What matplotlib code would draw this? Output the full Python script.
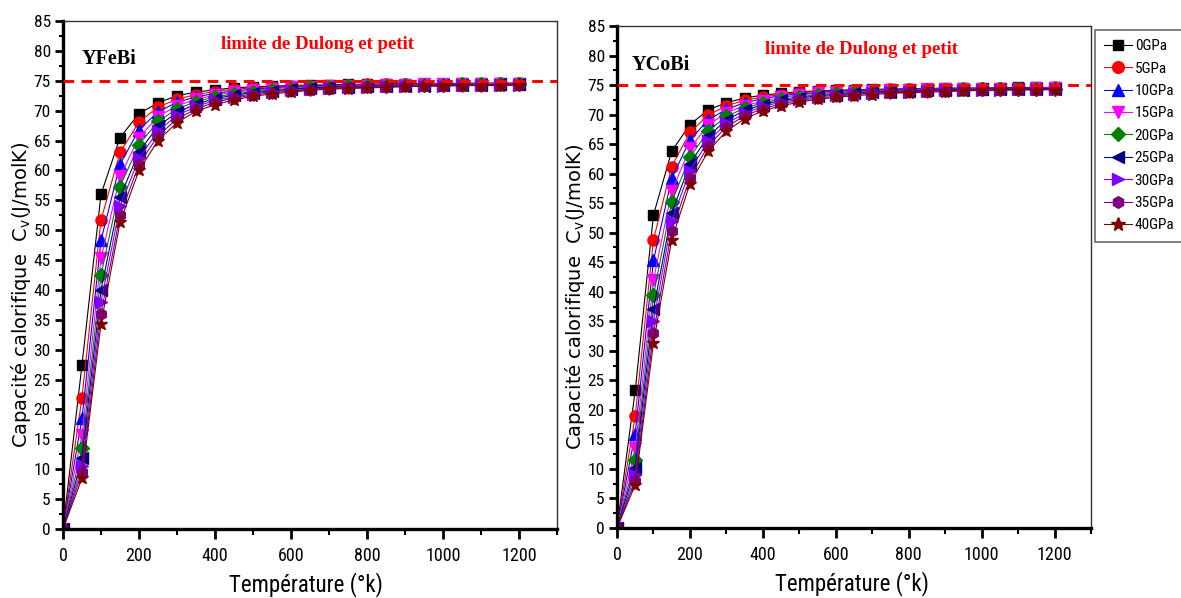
import matplotlib
matplotlib.use("Agg")
import matplotlib.pyplot as plt
from matplotlib.ticker import MultipleLocator

# Temperature grid (K)
temperature = [0, 50, 100, 150, 200, 250, 300, 350, 400, 450, 500, 550, 600,
               650, 700, 750, 800, 850, 900, 950, 1000, 1050, 1100, 1150, 1200]

pressure_labels = ["0GPa", "5GPa", "10GPa", "15GPa", "20GPa",
                   "25GPa", "30GPa", "35GPa", "40GPa"]

# Heat capacity Cv (J/molK) of YFeBi for each pressure
yfebi_0 = [0, 27.5, 56.0, 65.5, 69.5, 71.3, 72.5, 73.1, 73.5, 73.8, 74.0, 74.1, 74.2, 74.3, 74.3, 74.4, 74.4, 74.5, 74.5, 74.5, 74.5, 74.6, 74.6, 74.6, 74.6]
yfebi_5 = [0, 22.0, 51.7, 63.0, 68.1, 70.6, 71.9, 72.7, 73.2, 73.6, 73.8, 74.0, 74.1, 74.2, 74.2, 74.3, 74.4, 74.4, 74.4, 74.5, 74.5, 74.5, 74.5, 74.6, 74.6]
yfebi_10 = [0, 18.5, 48.3, 61.0, 66.8, 69.8, 71.4, 72.3, 72.9, 73.3, 73.6, 73.8, 74.0, 74.1, 74.2, 74.2, 74.3, 74.3, 74.4, 74.4, 74.4, 74.5, 74.5, 74.5, 74.5]
yfebi_15 = [0, 15.7, 45.3, 59.0, 65.5, 69.0, 70.8, 71.9, 72.6, 73.1, 73.4, 73.7, 73.9, 74.0, 74.1, 74.2, 74.2, 74.3, 74.3, 74.4, 74.4, 74.4, 74.5, 74.5, 74.5]
yfebi_20 = [0, 13.5, 42.5, 57.3, 64.3, 68.2, 70.3, 71.5, 72.3, 72.8, 73.2, 73.5, 73.7, 73.9, 74.0, 74.1, 74.1, 74.2, 74.3, 74.3, 74.3, 74.4, 74.4, 74.4, 74.4]
yfebi_25 = [0, 11.8, 40.0, 55.5, 63.1, 67.4, 69.7, 71.1, 72.0, 72.6, 73.0, 73.3, 73.6, 73.8, 73.9, 74.0, 74.1, 74.1, 74.2, 74.2, 74.3, 74.3, 74.3, 74.4, 74.4]
yfebi_30 = [0, 10.5, 38.0, 54.0, 62.0, 66.6, 69.2, 70.7, 71.7, 72.3, 72.8, 73.2, 73.4, 73.6, 73.8, 73.9, 74.0, 74.1, 74.1, 74.2, 74.2, 74.3, 74.3, 74.3, 74.3]
yfebi_35 = [0, 9.5, 36.0, 52.5, 61.0, 65.8, 68.6, 70.3, 71.4, 72.1, 72.6, 73.0, 73.3, 73.5, 73.7, 73.8, 73.9, 74.0, 74.1, 74.1, 74.2, 74.2, 74.2, 74.3, 74.3]
yfebi_40 = [0, 8.5, 34.3, 51.3, 60.0, 65.0, 68.0, 69.9, 71.0, 71.8, 72.4, 72.8, 73.1, 73.4, 73.6, 73.7, 73.8, 73.9, 74.0, 74.1, 74.1, 74.2, 74.2, 74.2, 74.3]

# Heat capacity Cv (J/molK) of YCoBi for each pressure
ycobi_0 = [0, 23.3, 53.0, 63.8, 68.3, 70.8, 72.0, 72.8, 73.3, 73.6, 73.9, 74.0, 74.1, 74.2, 74.3, 74.3, 74.4, 74.4, 74.5, 74.5, 74.5, 74.5, 74.6, 74.6, 74.6]
ycobi_5 = [0, 19.0, 48.8, 61.2, 67.0, 69.9, 71.5, 72.4, 73.0, 73.4, 73.7, 73.9, 74.0, 74.1, 74.2, 74.3, 74.3, 74.4, 74.4, 74.4, 74.5, 74.5, 74.5, 74.5, 74.6]
ycobi_10 = [0, 16.0, 45.3, 59.2, 65.7, 69.1, 70.9, 72.0, 72.7, 73.2, 73.5, 73.7, 73.9, 74.0, 74.1, 74.2, 74.3, 74.3, 74.4, 74.4, 74.4, 74.5, 74.5, 74.5, 74.5]
ycobi_15 = [0, 13.5, 42.0, 57.0, 64.3, 68.2, 70.3, 71.5, 72.3, 72.9, 73.3, 73.6, 73.8, 73.9, 74.0, 74.1, 74.2, 74.3, 74.3, 74.3, 74.4, 74.4, 74.4, 74.5, 74.5]
ycobi_20 = [0, 11.5, 39.4, 55.2, 62.8, 67.2, 69.7, 71.1, 72.0, 72.6, 73.0, 73.4, 73.6, 73.8, 73.9, 74.0, 74.1, 74.2, 74.2, 74.3, 74.3, 74.4, 74.4, 74.4, 74.4]
ycobi_25 = [0, 10.2, 37.0, 53.3, 61.7, 66.3, 69.1, 70.7, 71.7, 72.4, 72.8, 73.2, 73.4, 73.6, 73.8, 73.9, 74.0, 74.1, 74.2, 74.2, 74.3, 74.3, 74.3, 74.4, 74.4]
ycobi_30 = [0, 9.0, 35.0, 52.0, 60.5, 65.5, 68.5, 70.2, 71.4, 72.1, 72.6, 73.0, 73.3, 73.5, 73.7, 73.8, 73.9, 74.0, 74.1, 74.1, 74.2, 74.2, 74.3, 74.3, 74.3]
ycobi_35 = [0, 8.0, 33.0, 50.3, 59.3, 64.7, 67.9, 69.8, 71.0, 71.8, 72.4, 72.8, 73.1, 73.4, 73.6, 73.7, 73.8, 73.9, 74.0, 74.1, 74.1, 74.2, 74.2, 74.2, 74.3]
ycobi_40 = [0, 7.3, 31.3, 48.8, 58.3, 63.8, 67.2, 69.3, 70.6, 71.5, 72.1, 72.6, 72.9, 73.2, 73.4, 73.6, 73.7, 73.8, 73.9, 74.0, 74.1, 74.1, 74.2, 74.2, 74.2]

dulong_petit = 75.0

yfebi_series = [yfebi_0, yfebi_5, yfebi_10, yfebi_15, yfebi_20,
                yfebi_25, yfebi_30, yfebi_35, yfebi_40]
ycobi_series = [ycobi_0, ycobi_5, ycobi_10, ycobi_15, ycobi_20,
                ycobi_25, ycobi_30, ycobi_35, ycobi_40]

colors = ["#000000", "#ff0000", "#0000ff", "#ff00ff", "#008000",
          "#000080", "#8000ff", "#800080", "#800000"]
markers = ["s", "o", "^", "v", "D", "<", ">", "h", "*"]
msizes = [7.5, 8, 8, 8, 7, 8, 8, 8, 9.5]

NARROW = ["Roboto Condensed", "DejaVu Sans"]
plt.rcParams["font.family"] = NARROW
plt.rcParams["mathtext.fontset"] = "custom"
plt.rcParams["mathtext.rm"] = "DejaVu Sans"
plt.rcParams["mathtext.it"] = "DejaVu Sans"

fig = plt.figure(figsize=(11.81, 5.98), dpi=100)
ax_fe = fig.add_axes([63 / 1181, 1 - 529 / 598, 494 / 1181, 508 / 598])
ax_co = fig.add_axes([617 / 1181, 1 - 528 / 598, 474 / 1181, 502 / 598])


def draw_panel(ax, series, compound, name_xy, ylab_x, xlab_x):
    handles = []
    for vals, c, m, ms, lab in zip(series, colors, markers, msizes, pressure_labels):
        h, = ax.plot(temperature, vals, color=c, lw=0.8, marker=m, ms=ms,
                     markerfacecolor=c, markeredgecolor=c, label=lab)
        handles.append(h)
    ax.axhline(dulong_petit, color="#ff0000", lw=2.2, ls=(0, (3.5, 2.4)), zorder=5)
    ax.set_xlim(0, 1300)
    ax.set_ylim(0, 85)
    ax.xaxis.set_major_locator(MultipleLocator(200))
    ax.xaxis.set_minor_locator(MultipleLocator(100))
    ax.yaxis.set_major_locator(MultipleLocator(5))
    ax.yaxis.set_minor_locator(MultipleLocator(2.5))
    ax.tick_params(axis="x", which="major", direction="out", length=7.2, width=2,
                   labelsize=13, pad=5.5, top=False)
    ax.tick_params(axis="y", which="major", direction="out", length=5.8, width=2,
                   labelsize=12.5, pad=3.0, right=False)
    ax.tick_params(axis="x", which="minor", direction="out", length=4.5, width=1.5, top=False)
    ax.tick_params(axis="y", which="minor", direction="out", length=3.2, width=1.5, right=False)
    for side in ("left", "bottom"):
        ax.spines[side].set_linewidth(2.4)
    for side in ("top", "right"):
        ax.spines[side].set_linewidth(1.0)
        ax.spines[side].set_color("#333333")
    ax.set_xlabel("Température (°k)", fontsize=16.5)
    ax.xaxis.set_label_coords(xlab_x, -0.110)
    ax.xaxis.label.set_va("center")
    ax.set_ylabel("Capacité calorifique  C$_v$(J/molK)", fontsize=14,
                  family="DejaVu Sans")
    ax.yaxis.set_label_coords(ylab_x, 0.46)
    ax.yaxis.label.set_va("center")
    ax.text(name_xy[0], name_xy[1], compound, fontsize=14.5, fontweight="bold",
            family="Liberation Serif", color="black", va="center", ha="left")
    ax.text(670, 81, "limite de Dulong et petit", fontsize=13.5, fontweight="bold",
            family="Liberation Serif", color="#ff0000", va="center", ha="center")
    return handles


draw_panel(ax_fe, yfebi_series, "YFeBi", (48, 78.6), -0.085, 0.492)
handles = draw_panel(ax_co, ycobi_series, "YCoBi", (40, 78.4), -0.089, 0.496)

leg = fig.legend(handles=handles, loc="upper left",
                 bbox_to_anchor=(1095 / 1181, 1 - 30 / 598),
                 prop={"family": NARROW, "size": 11},
                 frameon=True, fancybox=False, markerscale=1.05,
                 handlelength=1.8, handletextpad=0.2, labelspacing=0.55,
                 borderpad=0.6, borderaxespad=0)
leg.get_frame().set_edgecolor("#444444")
leg.get_frame().set_linewidth(1.2)

fig.savefig("out.png", dpi=100)
